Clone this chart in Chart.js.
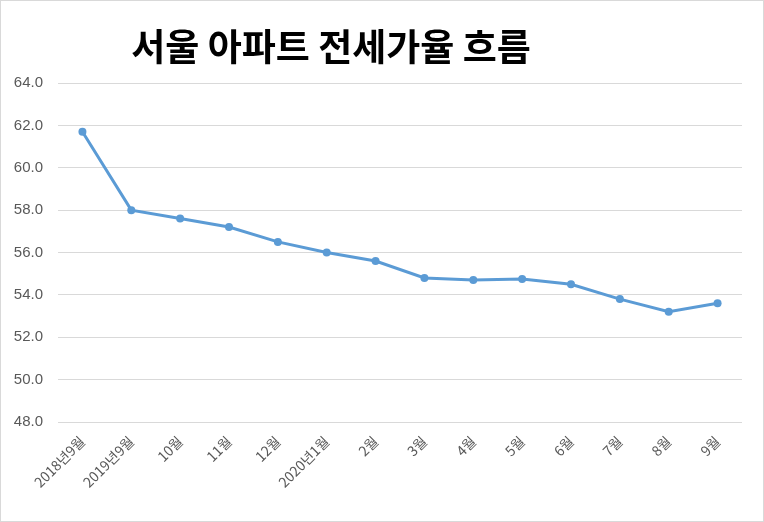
<!DOCTYPE html>
<html>
<head>
<meta charset="utf-8">
<script src="https://cdn.jsdelivr.net/npm/chart.js@4/dist/chart.umd.min.js"></script>
<style>
  html, body { margin: 0; padding: 0; background: #fff; }
  #wrap { position: relative; width: 764px; height: 522px; box-sizing: border-box; border: 1px solid #d9d9d9; }
</style>
</head>
<body>
<div id="wrap"><canvas id="chart" width="762" height="520"></canvas></div>
<script>
const chartTitle = '서울 아파트 전세가율 흐름';
const months = ['2018년9월', '2019년9월', '10월', '11월', '12월', '2020년1월', '2월', '3월', '4월', '5월', '6월', '7월', '8월', '9월'];
const jeonseRatio = [61.7, 58.0, 57.6, 57.2, 56.5, 56.0, 55.6, 54.8, 54.7, 54.75, 54.5, 53.8, 53.2, 53.6];
const yMin = 48, yMax = 64, yStep = 2;

// title sits left of centre in the original, so draw it ourselves
const titlePlugin = {
    id: 'offsetTitle',
    afterDraw(chart) {
        const c = chart.ctx;
        c.save();
        c.font = 'bold 37px "Noto Sans CJK KR"';
        c.fillStyle = '#000';
        c.textAlign = 'center';
        c.textBaseline = 'middle';
        c.fillText(chartTitle, 330, 46);
        c.restore();
    }
};

const ctx = document.getElementById('chart').getContext('2d');
new Chart(ctx, {
    type: 'line',
    data: {
        labels: months,
        datasets: [{
            data: jeonseRatio,
            borderColor: '#5b9bd5',
            backgroundColor: '#5b9bd5',
            borderWidth: 3,
            pointRadius: 4,
            pointBackgroundColor: '#5b9bd5',
            pointBorderWidth: 0,
            tension: 0
        }]
    },
    options: {
        responsive: false,
        animation: false,
        layout: { padding: { top: 82, right: 21, left: 0, bottom: 0 } },
        plugins: { legend: { display: false }, tooltip: { enabled: false } },
        scales: {
            x: {
                offset: true,
                grid: { display: false },
                border: { display: false },
                ticks: {
                    color: '#595959',
                    font: { family: '"Noto Sans CJK KR"', size: 14 },
                    maxRotation: 45,
                    minRotation: 45,
                    padding: 3,
                    autoSkip: false
                },
                afterFit(s) { s.height = 99; }
            },
            y: {
                min: yMin,
                max: yMax,
                grid: { color: '#d9d9d9', drawTicks: false },
                border: { display: false },
                ticks: {
                    stepSize: yStep,
                    color: '#595959',
                    padding: 15,
                    font: { family: 'Liberation Sans', size: 15 },
                    callback: v => v.toFixed(1)
                },
                afterFit(s) { s.width = 57; }
            }
        }
    },
    plugins: [titlePlugin]
});
</script>
</body>
</html>
